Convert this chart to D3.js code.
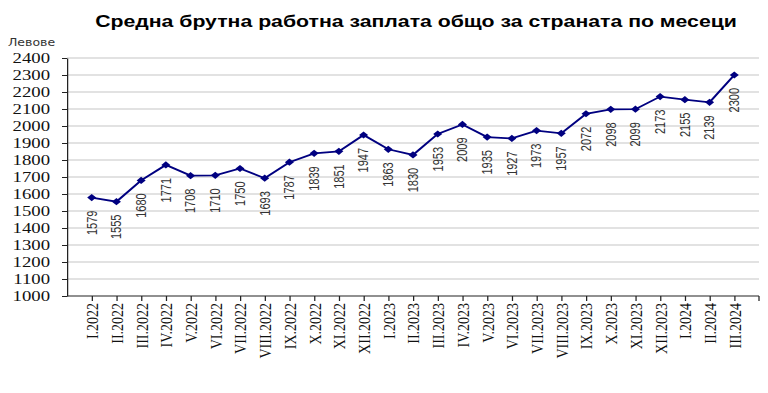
<!DOCTYPE html>
<html>
<head>
<meta charset="utf-8">
<script src="https://cdn.jsdelivr.net/npm/d3@7"></script>
<style>
  body { margin: 0; background: #fff; }
  svg { display: block; }
</style>
</head>
<body>
<div id="chart"></div>
<script>
// Data
const months = ["I.2022", "II.2022", "III.2022", "IV.2022", "V.2022", "VI.2022", "VII.2022", "VIII.2022",
    "IX.2022", "X.2022", "XI.2022", "XII.2022", "I.2023", "II.2023", "III.2023", "IV.2023", "V.2023",
    "VI.2023", "VII.2023", "VIII.2023", "IX.2023", "X.2023", "XI.2023", "XII.2023", "I.2024", "II.2024", "III.2024"];
const salaries = [1579, 1555, 1680, 1771, 1708, 1710, 1750, 1693, 1787, 1839, 1851, 1947, 1863, 1830,
    1953, 2009, 1935, 1927, 1973, 1957, 2072, 2098, 2099, 2173, 2155, 2139, 2300];
const yTicks = d3.range(1000, 2401, 100);

const titleText = "Средна брутна работна заплата общо за страната по месеци";
const unitText = "Левове";

// the original picture is stretched horizontally, so draw in a narrower viewBox
const SX = 1.25;
const W = 768, H = 393;
const px = v => v / SX;

const margin = { left: 67, right: 9, top: 58, bottom: 97 };

const svg = d3.select('#chart').append('svg')
    .attr('width', W)
    .attr('height', H)
    .attr('viewBox', `0 0 ${W / SX} ${H}`)
    .attr('preserveAspectRatio', 'none');

const xScale = d3.scalePoint()
    .domain(months)
    .range([px(margin.left), px(W - margin.right)])
    .padding(1);

const yScale = d3.scaleLinear()
    .domain([1000, 2400])
    .range([H - margin.bottom, margin.top]);

// Title
svg.append('text')
    .attr('x', px(416))
    .attr('y', 27)
    .attr('text-anchor', 'middle')
    .style('font-family', 'Liberation Sans, Arial, sans-serif')
    .style('font-weight', 'bold')
    .style('font-size', '17px')
    .text(titleText);

svg.append('text')
    .attr('x', px(8))
    .attr('y', 46)
    .style('font-family', 'DejaVu Sans, Verdana, sans-serif')
    .style('font-size', '10px')
    .style('fill', '#333')
    .text(unitText);

// Gridlines
svg.append('g')
    .selectAll('line')
    .data(yTicks.filter(d => d > 1000))
    .join('line')
    .attr('x1', px(margin.left))
    .attr('x2', px(W - margin.right))
    .attr('y1', d => yScale(d))
    .attr('y2', d => yScale(d))
    .attr('stroke', '#d9d9d9')
    .attr('stroke-width', 1.3);

// Y axis
let yAxis = svg.append('g')
    .attr('transform', `translate(${px(margin.left)},0)`)
    .call(d3.axisLeft(yScale).tickValues(yTicks).tickFormat(d3.format('d'))
        .tickSize(px(5)).tickPadding(px(12)).tickSizeOuter(0));
yAxis.select('.domain').attr('stroke', '#222');
yAxis.selectAll('.tick line').attr('stroke', '#222');
yAxis.selectAll('.tick text')
    .style('font-family', 'Liberation Serif, Times New Roman, serif')
    .style('font-size', '15px')
    .attr('fill', '#111');

// X axis
let xAxis = svg.append('g')
    .attr('transform', `translate(0,${yScale(1000)})`)
    .call(d3.axisBottom(xScale).tickSize(5).tickSizeOuter(0));
xAxis.select('.domain').attr('stroke', '#222')
    .attr('d', `M${px(margin.left)},0H${px(W - margin.right)}`);
xAxis.selectAll('.tick line').attr('stroke', '#222');
xAxis.append('line')
    .attr('x1', px(W - margin.right)).attr('x2', px(W - margin.right))
    .attr('y1', 0).attr('y2', 5)
    .attr('stroke', '#222');
xAxis.selectAll('.tick text')
    .attr('transform', 'rotate(-90)')
    .attr('text-anchor', 'end')
    .attr('x', -7)
    .attr('y', 0)
    .attr('dy', '0.33em')
    .style('font-family', 'Liberation Serif, Times New Roman, serif')
    .style('font-size', '14px')
    .attr('fill', '#111');

// Line
const line = d3.line()
    .x((d, i) => xScale(months[i]))
    .y(d => yScale(d));

svg.append('path')
    .datum(salaries)
    .attr('d', line)
    .attr('fill', 'none')
    .attr('stroke', '#000080')
    .attr('stroke-width', 1.8);

// Markers
svg.append('g')
    .selectAll('path')
    .data(salaries)
    .join('path')
    .attr('d', d3.symbol(d3.symbolSquare, 26))
    .attr('transform', (d, i) => `translate(${xScale(months[i])},${yScale(d)}) rotate(45)`)
    .attr('fill', '#000080');

// Value labels
svg.append('g')
    .selectAll('text')
    .data(salaries)
    .join('text')
    .attr('transform', (d, i) => `translate(${xScale(months[i])},${yScale(d) + 13}) rotate(-90)`)
    .attr('text-anchor', 'end')
    .attr('dy', '0.35em')
    .style('font-family', 'Liberation Sans, Arial, sans-serif')
    .style('font-size', '11px')
    .attr('fill', '#333')
    .text(d => d);
</script>
</body>
</html>
